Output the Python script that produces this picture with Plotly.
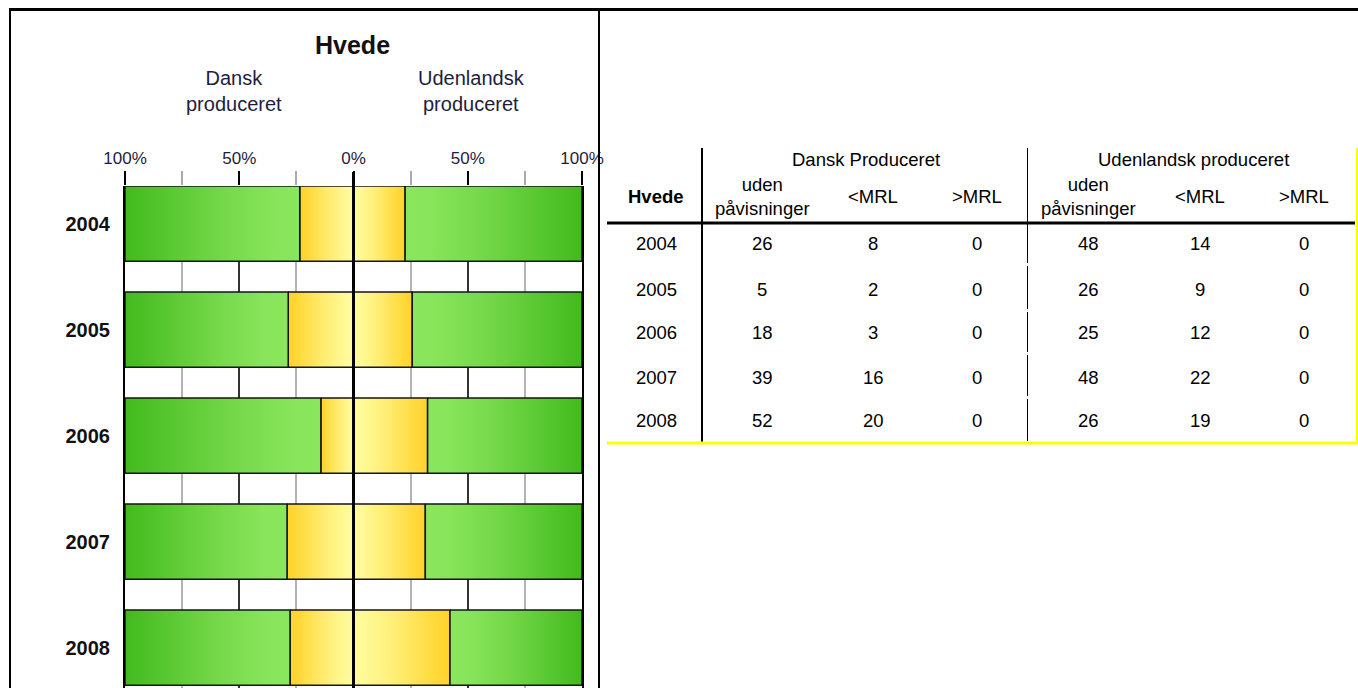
import subprocess
import plotly.graph_objects as go

years = ["2004", "2005", "2006", "2007", "2008"]
dk_uden = [26, 5, 18, 39, 52]      # Dansk produceret: uden påvisninger
dk_lt = [8, 2, 3, 16, 20]          # Dansk produceret: <MRL
dk_gt = [0, 0, 0, 0, 0]            # Dansk produceret: >MRL
ud_uden = [48, 26, 25, 48, 26]     # Udenlandsk produceret: uden påvisninger
ud_lt = [14, 9, 12, 22, 19]        # Udenlandsk produceret: <MRL
ud_gt = [0, 0, 0, 0, 0]            # Udenlandsk produceret: >MRL
pct_ticks = [-100, -50, 0, 50, 100]
pct_labels = ["100%", "50%", "0%", "50%", "100%"]

# ---------------- page geometry helpers ----------------
W, H = 1358, 688


def px(x):
    return x / W


def py(y):
    return 1 - y / H


try:
    fl = subprocess.run(["fc-list"], capture_output=True, text=True).stdout
except Exception:
    fl = ""
if "Liberation Sans Narrow" in fl:
    YEAR_FONT = dict(family="Liberation Sans Narrow", size=24, color="#111")
else:
    YEAR_FONT = dict(family="Liberation Sans", size=20, color="#111")

FONT = "Liberation Sans, Arial, sans-serif"
LABEL_COL = "#1e1e3c"

GREEN = [(0, "#42ba1c"), (0.15, "#4fc229"), (0.55, "#74d748"), (0.85, "#88e45a"), (1, "#8ae65c")]
YELLOW = [(0, "#ffd22a"), (0.15, "#ffd93a"), (0.6, "#ffef78"), (0.9, "#fffa98"), (1, "#fffb9d")]
RED = [(0, "#d01010"), (1, "#ff7070")]

BAR_W = 0.71

fig = go.Figure()


def add_segment(x_from, x_to, yc, stops):
    """x_from is the inner (centre) edge, x_to the outer edge."""
    lo, hi = min(x_from, x_to), max(x_from, x_to)
    if hi - lo <= 0:
        return
    outer_is_min = x_to < x_from
    if outer_is_min:
        cs = [[p, c] for p, c in stops]
    else:
        cs = sorted([[1 - p, c] for p, c in stops], key=lambda t: t[0])
    y0, y1 = yc - BAR_W / 2, yc + BAR_W / 2
    fig.add_trace(go.Scatter(
        x=[lo, hi, hi, lo, lo], y=[y0, y0, y1, y1, y0],
        mode="lines", fill="toself",
        fillgradient=dict(type="horizontal", colorscale=cs),
        line=dict(color="#151515", width=1.5),
        hoverinfo="skip", showlegend=False))


for i, yr in enumerate(years):
    # Danish (left, negative)
    tot = dk_uden[i] + dk_lt[i] + dk_gt[i]
    gt = dk_gt[i] / tot * 100
    lt = dk_lt[i] / tot * 100
    add_segment(0, -gt, i, RED)
    add_segment(-gt, -(gt + lt), i, YELLOW)
    add_segment(-(gt + lt), -100, i, GREEN)
    # Foreign (right, positive)
    tot = ud_uden[i] + ud_lt[i] + ud_gt[i]
    gt = ud_gt[i] / tot * 100
    lt = ud_lt[i] / tot * 100
    add_segment(0, gt, i, RED)
    add_segment(gt, gt + lt, i, YELLOW)
    add_segment(gt + lt, 100, i, GREEN)

plot_top = 186
row_px = 106
half = BAR_W / 2
y_bottom = (H - plot_top) / row_px - half

fig.update_xaxes(
    domain=[px(125), px(582)], range=[-100, 100], side="top",
    tickvals=pct_ticks, ticktext=pct_labels,
    ticks="outside", ticklen=14, tickwidth=1.5, tickcolor="black",
    showgrid=True, gridcolor="#333333", gridwidth=1.5,
    minor=dict(tickvals=[-75, -25, 25, 75], ticks="outside", ticklen=14,
               tickcolor="#aaaaaa", tickwidth=1.5, showgrid=True,
               gridcolor="#b3b3b3", gridwidth=1.5),
    zeroline=False, showline=False, automargin=False,
    tickfont=dict(family=FONT, size=17, color=LABEL_COL),
    fixedrange=True)

fig.update_yaxes(
    domain=[0, py(plot_top)], range=[y_bottom, -half],
    tickvals=list(range(len(years))), ticktext=[f"<b>{y}</b>" for y in years],
    tickfont=YEAR_FONT, ticks="", ticklabelstandoff=9,
    showgrid=False, zeroline=False, automargin=False,
    showline=True, mirror=True, linecolor="black", linewidth=2,
    fixedrange=True)

shapes = []
# centre line
shapes.append(dict(type="line", xref="x", yref="paper", x0=0, x1=0,
                   y0=0, y1=py(172), line=dict(color="black", width=3), layer="above"))


def hline(x0, x1, y, color="black", width=1):
    shapes.append(dict(type="line", xref="paper", yref="paper",
                       x0=px(x0), x1=px(x1), y0=py(y), y1=py(y),
                       line=dict(color=color, width=width), layer="above"))


def vline(x, y0, y1, color="black", width=1):
    shapes.append(dict(type="line", xref="paper", yref="paper",
                       x0=px(x), x1=px(x), y0=py(y0), y1=py(y1),
                       line=dict(color=color, width=width), layer="above"))


# outer frame
hline(9, W, 9.5, width=3)
vline(10, 9, H, width=2)
vline(599, 9, H, width=2)

# table rules
hline(607, 1355, 223, width=3)
vline(702, 148, 443, width=2)
for a, b in [(148, 263), (266, 309), (312, 352), (355, 396), (399, 441)]:
    vline(1027.5, a, b, width=1)
hline(607, 1358, 443, color="#ffff00", width=3)
vline(1357, 148, 443, color="#ffff00", width=2)

annotations = []


def text(x, y, s, size, bold=False, color="black"):
    annotations.append(dict(
        xref="paper", yref="paper", x=px(x), y=py(y), text=f"<b>{s}</b>" if bold else s,
        showarrow=False, xanchor="center", yanchor="middle",
        font=dict(family=FONT, size=size, color=color)))


# chart titles
text(352, 45, "Hvede", 25, bold=True, color="#111")
text(234, 91, "Dansk<br>produceret", 20, color=LABEL_COL)
text(471, 91, "Udenlandsk<br>produceret", 20, color=LABEL_COL)

# table header
TS = 18.5
text(866, 160, "Dansk Produceret", TS)
text(1193, 160, "Udenlandsk produceret", TS)
text(656, 197, "Hvede", TS, bold=True)
col_x = [762, 873, 977, 1088, 1200, 1304]
sub_heads = ["uden<br>påvisninger", "&lt;MRL", "&gt;MRL"] * 2
for cx, s in zip(col_x, sub_heads):
    text(cx, 197, s, TS)

row_y = [244, 289, 332, 377, 420]
for i, yr in enumerate(years):
    text(656, row_y[i], yr, TS)
    vals = [dk_uden[i], dk_lt[i], dk_gt[i], ud_uden[i], ud_lt[i], ud_gt[i]]
    for cx, v in zip(col_x, vals):
        text(cx, row_y[i], str(v), TS)

fig.update_layout(
    width=W, height=H, margin=dict(l=0, r=0, t=0, b=0, pad=0, autoexpand=False),
    paper_bgcolor="white", plot_bgcolor="white",
    shapes=shapes, annotations=annotations, showlegend=False)

fig.write_html(
    "out.html",
    config={"displayModeBar": False},
    post_script="document.body.style.margin='0';document.body.style.overflow='hidden';")
